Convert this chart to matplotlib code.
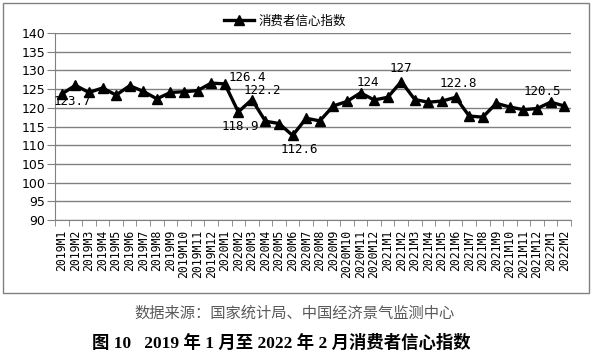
import matplotlib
matplotlib.use('Agg')
import matplotlib.pyplot as plt
from matplotlib.patches import Rectangle

# data
months = ['2019M1', '2019M2', '2019M3', '2019M4', '2019M5', '2019M6', '2019M7', '2019M8',
          '2019M9', '2019M10', '2019M11', '2019M12',
          '2020M1', '2020M2', '2020M3', '2020M4', '2020M5', '2020M6', '2020M7', '2020M8',
          '2020M9', '2020M10', '2020M11', '2020M12',
          '2021M1', '2021M2', '2021M3', '2021M4', '2021M5', '2021M6', '2021M7', '2021M8',
          '2021M9', '2021M10', '2021M11', '2021M12',
          '2022M1', '2022M2']
values = [123.7, 126.0, 124.1, 125.3, 123.4, 125.9, 124.4, 122.4,
          124.1, 124.3, 124.6, 126.6,
          126.4, 118.9, 122.2, 116.4, 115.8, 112.6, 117.2, 116.5,
          120.5, 121.7, 124.0, 122.1,
          122.8, 127.0, 122.2, 121.5, 121.8, 122.8, 117.8, 117.5,
          121.2, 120.2, 119.5, 119.8,
          121.5, 120.5]
# labelled points: month -> offset of the label in pixels
label_at = {'2019M1': (10, -8), '2020M1': (23, 6), '2020M2': (2, -15),
            '2020M3': (10, 9), '2020M6': (7, -14), '2020M11': (7, 10),
            '2021M2': (0, 13), '2021M6': (3, 14), '2022M2': (-22, 14)}
yticks = list(range(90, 141, 5))

plt.rcParams['font.family'] = ['DejaVu Sans', 'Noto Sans CJK SC']

fig = plt.figure(figsize=(5.92, 3.52), dpi=100)
ax = fig.add_axes([55/592, 1-220/352, 516/592, 187/352])

x = list(range(len(months)))
ax.plot(x, values, color='black', lw=2.4, marker='^', markersize=7,
        label='消费者信心指数')

for m, (dx, dy) in label_at.items():
    i = months.index(m)
    v = values[i]
    ax.annotate(f'{v:g}', (i, v), xytext=(dx*0.72, dy*0.72), textcoords='offset points',
                ha='center', va='center', fontsize=9, family='DejaVu Sans Mono')

ax.set_xlim(-0.5, len(months)-0.5)
ax.set_ylim(90, 140)
ax.set_yticks(yticks)
ax.tick_params(axis='y', labelsize=9, length=6, color='#808080', pad=1)
ax.set_xticks(x)
ax.set_xticklabels(months, rotation=90, fontsize=8.3, family='DejaVu Sans Mono')
ax.set_xticks([i - 0.5 for i in range(len(months)+1)], minor=True)
ax.tick_params(axis='x', which='major', length=0, pad=7)
ax.tick_params(axis='x', which='minor', length=4, color='#808080')
ax.grid(axis='y', color='#808080', lw=1)
ax.set_axisbelow(True)
for s in ['top', 'right']:
    ax.spines[s].set_visible(False)
ax.spines['left'].set_color('#808080')
ax.spines['bottom'].set_color('#808080')

ax.legend(loc='center', bbox_to_anchor=(285/592, 1-21/352), bbox_transform=fig.transFigure,
          frameon=False, handlelength=2.4, handletextpad=0.3,
          prop={'family': ['Noto Sans CJK SC'], 'size': 9})

fig.patches.append(Rectangle((3/592, 1-293/352), 586/592, 290/352, transform=fig.transFigure,
                             fill=False, edgecolor='#808080', lw=1))

fig.text(295/592, 1-313/352, '数据来源：国家统计局、中国经济景气监测中心', ha='center', va='center',
         fontsize=11, color='#5a5a5a', family=['Noto Sans CJK SC'])
fig.text(281/592, 1-343/352, '图 10   2019 年 1 月至 2022 年 2 月消费者信心指数', ha='center', va='center',
         fontsize=12.5, fontweight='bold', family=['Liberation Serif', 'Noto Sans CJK SC'])

fig.savefig('out.png', dpi=100)
